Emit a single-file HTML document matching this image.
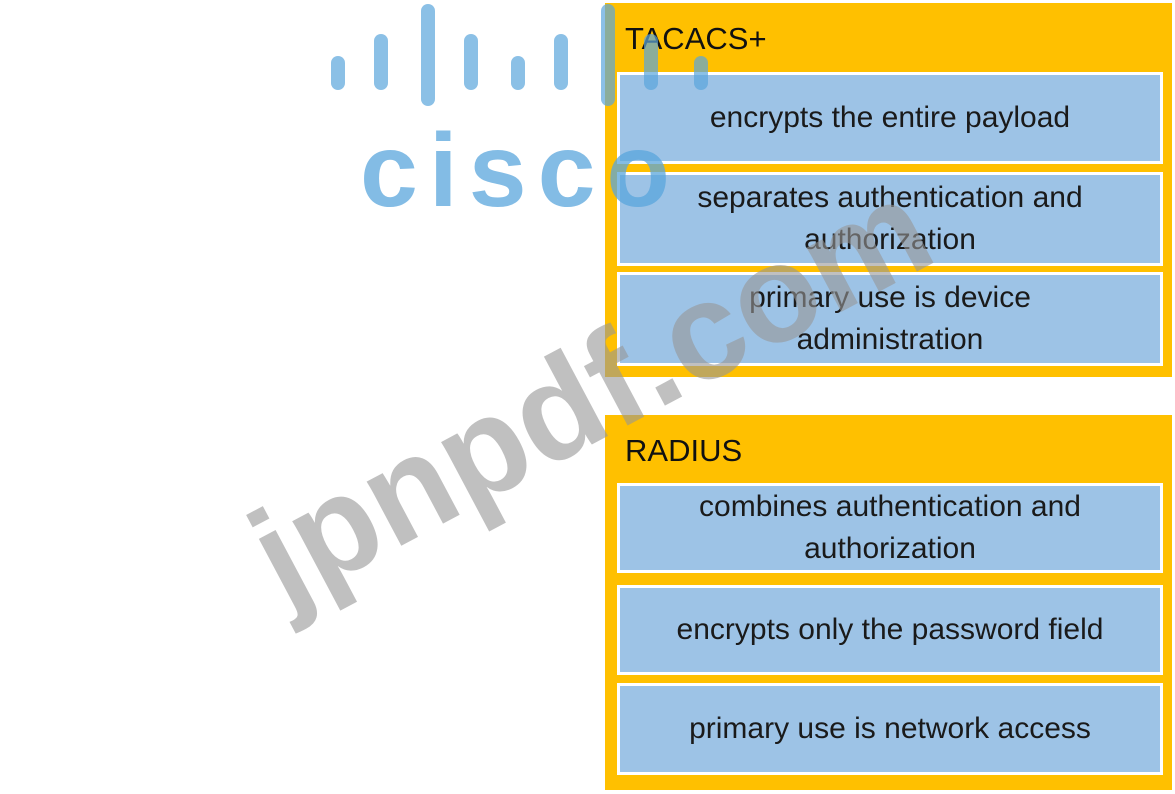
<!DOCTYPE html>
<html><head><style>
body{margin:0;width:1175px;height:794px;background:#fff;position:relative;overflow:hidden;font-family:"Liberation Sans",sans-serif;}
.y{position:absolute;left:605px;width:567px;background:#ffc000;}
.t{position:absolute;left:20px;font-size:31px;color:#111;}
.b{position:absolute;left:12px;width:546px;background:#9dc3e6;border:3px solid #fff;box-sizing:border-box;display:flex;align-items:center;justify-content:center;text-align:center;font-size:30px;line-height:42px;color:#1a1a1a;}
.bar{position:absolute;width:14px;border-radius:7px;background:rgba(90,165,220,0.7);}
</style></head><body>
<div class="y" style="top:3px;height:374px">
 <div class="t" style="top:18px">TACACS+</div>
 <div class="b" style="top:69px;height:92px">encrypts the entire payload</div>
 <div class="b" style="top:169px;height:94px">separates authentication and<br>authorization</div>
 <div class="b" style="top:269px;height:94px">primary use is device<br>administration</div>
</div>
<div class="y" style="top:415px;height:375px">
 <div class="t" style="top:18px">RADIUS</div>
 <div class="b" style="top:68px;height:90px">combines authentication and<br>authorization</div>
 <div class="b" style="top:170px;height:90px">encrypts only the password field</div>
 <div class="b" style="top:268px;height:92px">primary use is network access</div>
</div>
<div class="bar" style="left:331px;top:56px;height:34px"></div>
<div class="bar" style="left:374px;top:34px;height:56px"></div>
<div class="bar" style="left:421px;top:4px;height:102px"></div>
<div class="bar" style="left:464px;top:34px;height:56px"></div>
<div class="bar" style="left:511px;top:56px;height:34px"></div>
<div class="bar" style="left:554px;top:34px;height:56px"></div>
<div class="bar" style="left:601px;top:4px;height:102px"></div>
<div class="bar" style="left:644px;top:34px;height:56px"></div>
<div class="bar" style="left:694px;top:56px;height:34px"></div>
<div style="position:absolute;left:360px;top:112px;font-size:104px;font-weight:bold;color:rgba(90,165,220,0.75);letter-spacing:11px;">cisco</div>
<div style="position:absolute;left:300px;top:478px;font-size:138px;font-weight:bold;color:rgba(150,150,150,0.6);transform:rotate(-28deg);transform-origin:0 100%;white-space:nowrap;">jpnpdf.com</div>
</body></html>
